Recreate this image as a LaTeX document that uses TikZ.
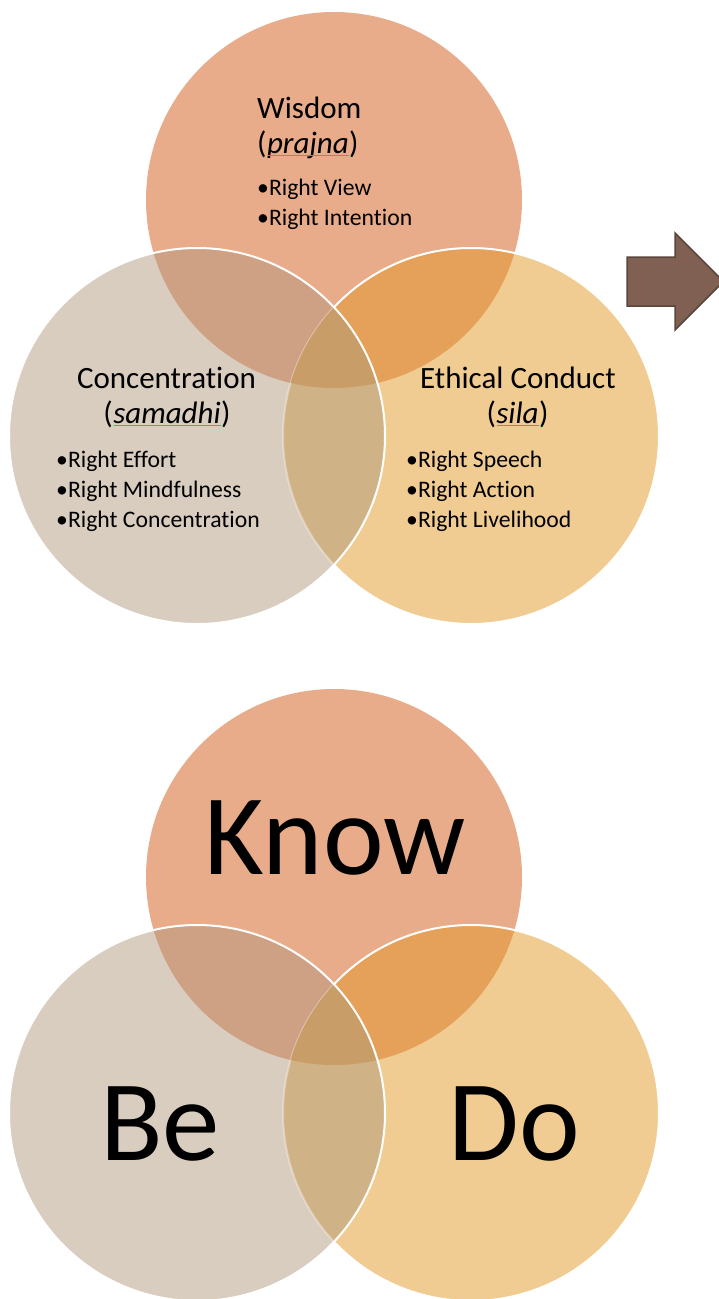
\documentclass[tikz,border=0pt]{standalone}
\usepackage{fontspec}
\setmainfont{Carlito}[Ligatures=NoCommon]
\definecolor{topc}{HTML}{E9AC8A}
\definecolor{leftc}{HTML}{D9CDBF}
\definecolor{rightc}{HTML}{F0CC92}
\definecolor{tlc}{HTML}{CEA184}
\definecolor{trc}{HTML}{E5A15A}
\definecolor{lrc}{HTML}{D0B287}
\definecolor{allc}{HTML}{C89D68}
\definecolor{arrowfill}{HTML}{7F6052}
\definecolor{arrowedge}{HTML}{5A463C}
\definecolor{squiggle}{HTML}{F06060}
\begin{document}
\begin{tikzpicture}[x=1pt,y=-1pt,
  rim/.style={draw=white,line width=2pt},
  title/.style={font=\fontsize{31}{35}\selectfont,inner sep=0pt},
  term/.style={title,font=\fontsize{31}{35}\selectfont\itshape},
  item/.style={font=\fontsize{23.7}{28}\selectfont,inner sep=0pt},
  big/.style={font=\fontsize{115}{120}\selectfont,inner sep=0pt},
  proof/.style={draw=squiggle,line width=0.9pt}]
\useasboundingbox (0,0) rectangle (719,1299);
\clip (0,0) rectangle (719,1299);
\def\rad{188pt}
% two copies of the three-circle diagram
\foreach \k/\dy in {up/0,low/677}{
  \begin{scope}[shift={(0,\dy)}]
    \coordinate (top-\k) at (334,200);
    \coordinate (left-\k) at (197,436);
    \coordinate (right-\k) at (471,436);
    \fill[topc] (top-\k) circle[radius=\rad];
    \fill[rightc] (right-\k) circle[radius=\rad];
    \begin{scope}
      \clip (top-\k) circle[radius=\rad];
      \fill[trc] (right-\k) circle[radius=\rad];
    \end{scope}
    \draw[rim] (right-\k) circle[radius=\rad];
    \fill[leftc] (left-\k) circle[radius=\rad];
    \begin{scope}
      \clip (left-\k) circle[radius=\rad];
      \fill[tlc] (top-\k) circle[radius=\rad];
      \fill[lrc] (right-\k) circle[radius=\rad];
      \draw[white,opacity=0.35,line width=2pt] (right-\k) circle[radius=\rad];
      \clip (top-\k) circle[radius=\rad];
      \fill[allc] (right-\k) circle[radius=\rad];
    \end{scope}
    \draw[rim] (left-\k) circle[radius=\rad];
  \end{scope}
}
% block arrow at the right edge
\draw[fill=arrowfill,draw=arrowedge,line width=1.5pt,line join=miter]
  (627,257) -- (675,257) -- (675,233) -- (723.5,281.5) -- (675,330) -- (675,306) -- (627,306) -- cycle;
% Wisdom
\node[title,anchor=base west] (wisdom) at (257,118) {Wisdom};
\node[title,anchor=base west] (prajna-open) at (257,153) {(};
\node[term,anchor=base west] (prajna) at (prajna-open.base east) {prajna\/};
\node[title,anchor=base west] (prajna-close) at (prajna.base east) {)};
\draw[proof] ([yshift=-2.5pt,xshift=1pt]prajna.base west) -- ([yshift=-2.5pt]prajna.base east);
\node[item,anchor=base west] (view) at (257,195) {•Right View};
\node[item,anchor=base west] (intention) at (257,225) {•Right Intent\kern0pt ion};
% Concentration
\node[title,anchor=base] (conc) at (166.5,388) {Concentrat\kern0pt ion};
\node[term,anchor=base] (samadhi) at (167,423) {samadhi\/};
\node[title,anchor=base east] (samadhi-open) at (samadhi.base west) {(};
\node[title,anchor=base west] (samadhi-close) at (samadhi.base east) {)};
\draw[proof] ([yshift=-2.5pt,xshift=1pt]samadhi.base west) -- ([yshift=-2.5pt]samadhi.base east);
\node[item,anchor=base west] (effort) at (56,467) {•Right Effort};
\node[item,anchor=base west] (mindful) at (56,497) {•Right Mindfulness};
\node[item,anchor=base west] (rconc) at (56,527) {•Right Concentrat\kern0pt ion};
% Ethical Conduct
\node[title,anchor=base] (ethic) at (518,388) {Ethical Conduct};
\node[term,anchor=base] (sila) at (517.5,423) {sila\/};
\node[title,anchor=base east] (sila-open) at (sila.base west) {(};
\node[title,anchor=base west] (sila-close) at (sila.base east) {)};
\draw[proof] ([yshift=-2.5pt,xshift=1pt]sila.base west) -- ([yshift=-2.5pt]sila.base east);
\node[item,anchor=base west] (speech) at (406,467) {•Right Speech};
\node[item,anchor=base west] (action) at (406,497) {•Right Act\kern0pt ion};
\node[item,anchor=base west] (livelihood) at (406,527) {•Right Livelihood};
% Know / Be / Do
\node[big,anchor=base] (know) at (335,874) {Know};
\node[big,anchor=base] (be) at (160,1160) {Be};
\node[big,anchor=base] (do) at (514,1160) {Do};
\end{tikzpicture}
\end{document}
